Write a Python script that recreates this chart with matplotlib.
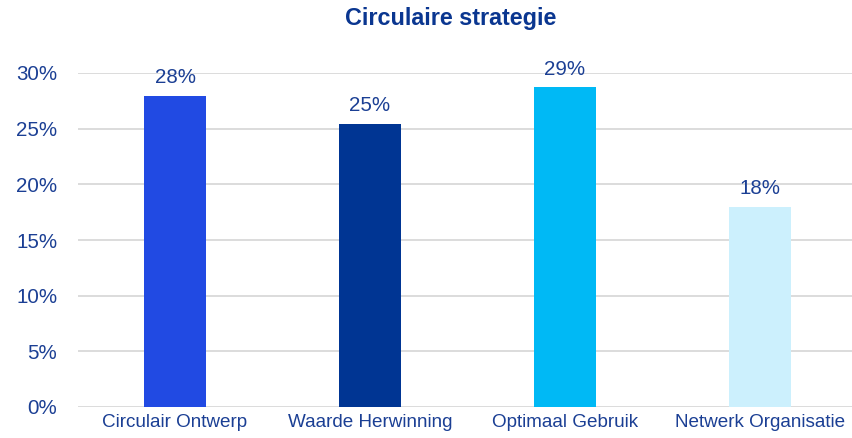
import numpy as np
import matplotlib
matplotlib.use("Agg")
import matplotlib.pyplot as plt
from matplotlib.ticker import FuncFormatter

plt.rcParams['font.family'] = ['Liberation Sans', 'DejaVu Sans']

# data
categories = ["Circulair Ontwerp", "Waarde Herwinning", "Optimaal Gebruik", "Netwerk Organisatie"]
values = [27.9, 25.4, 28.7, 18.0]
labels = ["28%", "25%", "29%", "18%"]
colors = ["#214AE3", "#003593", "#00B9F5", "#CCF0FD"]

text_color = "#1B3F94"

fig = plt.figure(figsize=(8.52, 4.38), dpi=100)
ax = fig.add_axes([77.5 / 852, 31 / 438, 780 / 852, 334 / 438])

x = np.arange(len(categories))
ax.bar(x, values, width=0.315, color=colors, zorder=3)

for xi, v, lab in zip(x, values, labels):
    ax.text(xi, v + 0.8, lab, ha="center", va="bottom", fontsize=14.8, color=text_color)

ax.set_xlim(-0.5, 3.5)
ax.set_ylim(0, 30)
ax.set_yticks(np.arange(0, 31, 5))
ax.yaxis.set_major_formatter(FuncFormatter(lambda v, p: f"{int(v)}%"))
ax.set_xticks(x)
ax.set_xticklabels(categories)
ax.tick_params(axis="both", length=0, colors=text_color)
ax.tick_params(axis="y", pad=14.5, labelsize=14.8)
ax.tick_params(axis="x", pad=5, labelsize=13.6)
ax.grid(axis="y", color="#D9D9D9", linewidth=1.3, zorder=0)
for s in ax.spines.values():
    s.set_visible(False)

fig.text(451 / 852, 1 - 19 / 438, "Circulaire strategie", ha="center", va="center",
         fontsize=16.8, fontweight="bold", color="#0A3690")

fig.savefig("out.png", dpi=100)
